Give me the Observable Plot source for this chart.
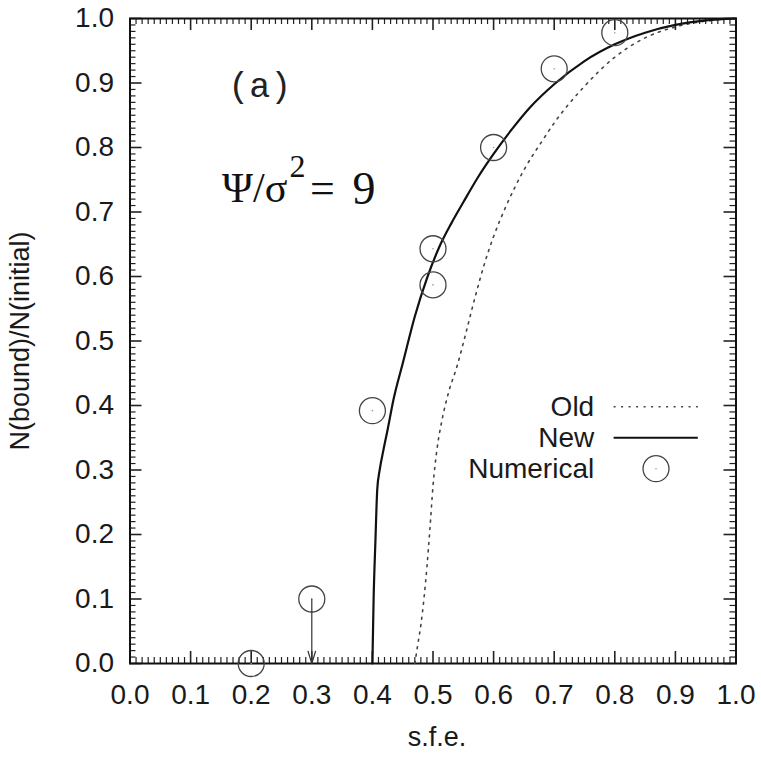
<!DOCTYPE html>
<html>
<head>
<meta charset="utf-8">
<script src="https://cdn.jsdelivr.net/npm/d3@7"></script>
<script src="https://cdn.jsdelivr.net/npm/@observablehq/plot@0.6"></script>
<style>
  body { margin: 0; background: #fff; }
</style>
</head>
<body>
<div id="chart"></div>
<script>
// ---- data ----
const newX = [0.400, 0.402, 0.405, 0.408, 0.412, 0.418, 0.425, 0.435, 0.450, 0.470, 0.490, 0.510, 0.530, 0.550, 0.575, 0.600, 0.630, 0.660, 0.700, 0.750, 0.800, 0.850, 0.900, 0.950, 1.000];
const newY = [0.000, 0.100, 0.190, 0.270, 0.300, 0.330, 0.362, 0.410, 0.465, 0.538, 0.597, 0.645, 0.682, 0.715, 0.755, 0.790, 0.828, 0.862, 0.898, 0.934, 0.960, 0.978, 0.990, 0.997, 1.000];

const oldX = [0.470, 0.475, 0.480, 0.485, 0.490, 0.495, 0.500, 0.507, 0.515, 0.525, 0.540, 0.555, 0.570, 0.585, 0.600, 0.620, 0.650, 0.680, 0.700, 0.750, 0.800, 0.850, 0.900, 0.950, 1.000];
const oldY = [0.000, 0.030, 0.060, 0.100, 0.150, 0.210, 0.275, 0.335, 0.378, 0.418, 0.462, 0.515, 0.570, 0.620, 0.662, 0.708, 0.765, 0.810, 0.838, 0.895, 0.940, 0.970, 0.987, 0.996, 1.000];

const numX = [0.2, 0.3, 0.4, 0.5, 0.5, 0.6, 0.7, 0.8];
const numY = [0.000, 0.100, 0.392, 0.643, 0.587, 0.800, 0.922, 0.978];

// upper limit: arrow from the point down to zero
const limitX = [0.3];
const limitFrom = [0.1];
const limitTo = [0.0];

const legendLabels = ["Old", "New", "Numerical"];
const majorTicks = d3.range(0, 11).map(i => i / 10);
const minorTicks = d3.range(0, 101).map(i => i / 100);
const tickLabels = ["0.0","0.1","0.2","0.3","0.4","0.5","0.6","0.7","0.8","0.9","1.0"];

const xLabel = "s.f.e.";
const yLabel = "N(bound)/N(initial)";
const panelLabel = "(a)";

// ---- build tables ----
const newCurve = newX.map((x, i) => ({x, y: newY[i]}));
const oldCurve = oldX.map((x, i) => ({x, y: oldY[i]}));
const numPts = numX.map((x, i) => ({x, y: numY[i]}));
const limits = limitX.map((x, i) => ({x, y1: limitFrom[i], y2: limitTo[i]}));

// legend layout (in data units)
const legTop = 0.398, legStep = 0.048;
const legend = legendLabels.map((label, i) => ({label, y: legTop - i * legStep}));
const legTextX = 0.766, legLine1 = 0.798, legLine2 = 0.937, legSymX = 0.868;

const fmt = d => tickLabels[Math.round(d * 10)];
const ink = "#1a1a1a";
const serif = "'Liberation Serif', 'Times New Roman', serif";

// inward ticks (minor every 0.01, major every 0.1) on all four sides
const tickRows = minorTicks.map((v, i) => ({v, major: i % 10 === 0}));
function sideTicks(major, len, sw) {
  const rows = tickRows.filter(d => d.major === major);
  const common = {stroke: "#222", strokeWidth: sw};
  return [
    Plot.ruleX(rows, {x: "v", y1: () => 0, y2: () => 0, insetBottom: len, ...common}),
    Plot.ruleX(rows, {x: "v", y1: () => 1, y2: () => 1, insetTop: len, ...common}),
    Plot.ruleY(rows, {y: "v", x1: () => 0, x2: () => 0, insetLeft: len, ...common}),
    Plot.ruleY(rows, {y: "v", x1: () => 1, x2: () => 1, insetRight: len, ...common})
  ];
}

const chart = Plot.plot({
  width: 761,
  height: 760,
  marginLeft: 129.5,
  marginRight: 25.5,
  marginTop: 18,
  marginBottom: 97,
  x: {domain: [0, 1]},
  y: {domain: [0, 1]},
  style: {fontFamily: "'Liberation Sans', Arial, sans-serif", fontSize: "28px", color: ink, background: "#fff"},
  marks: [
    ...sideTicks(false, 6, 1.2),
    ...sideTicks(true, 12, 1.6),
    // tick labels
    Plot.axisX(majorTicks, {anchor: "bottom", tickSize: 0, tickPadding: 21, tickFormat: fmt, label: null, fill: ink, fontSize: 28}),
    Plot.axisY(majorTicks, {anchor: "left", tickSize: 0, tickPadding: 16, tickFormat: fmt, label: null, fill: ink, fontSize: 28}),
    Plot.frame({stroke: "#111", strokeWidth: 2}),
    // axis titles
    Plot.text([xLabel], {frameAnchor: "bottom", dy: 82, dx: 4, fontSize: 27, fill: ink}),
    Plot.text([yLabel], {frameAnchor: "left", textAnchor: "middle", rotate: -90, dx: -110, fontSize: 27, fill: ink}),
    // curves
    Plot.line(oldCurve, {x: "x", y: "y", stroke: "#444", strokeWidth: 1.6, strokeDasharray: "2 5.5", curve: "monotone-x"}),
    Plot.line(newCurve, {x: "x", y: "y", stroke: "#111", strokeWidth: 2.2, curve: "monotone-x"}),
    // numerical points
    Plot.dot(numPts, {x: "x", y: "y", r: 13, stroke: "#444", strokeWidth: 1.3, fill: "none"}),
    Plot.dot(numPts, {x: "x", y: "y", r: 0.8, fill: "#999", stroke: "none"}),
    Plot.arrow(limits, {x: "x", y1: "y1", y2: "y2", stroke: "#333", strokeWidth: 1.2, headLength: 16, headAngle: 34}),
    // annotations
    Plot.text([panelLabel], {x: [0.214], y: [0.895], fontFamily: "'Liberation Mono', 'DejaVu Sans Mono', monospace", fontSize: 35, fill: "#222"}),
    Plot.text(["Ψ/σ"], {x: [0.152], y: [0.736], textAnchor: "start", fontFamily: serif, fontSize: 42, fill: "#111"}),
    Plot.text(["2"], {x: [0.263], y: [0.770], textAnchor: "start", fontFamily: serif, fontSize: 32, fill: "#111"}),
    Plot.text(["="], {x: [0.297], y: [0.736], textAnchor: "start", fontFamily: serif, fontSize: 44, fill: "#111"}),
    Plot.text(["9"], {x: [0.367], y: [0.736], textAnchor: "start", fontFamily: serif, fontSize: 46, fill: "#111"}),
    // legend
    Plot.text(legend, {x: () => legTextX, y: "y", text: "label", textAnchor: "end", fontSize: 28, fill: ink}),
    Plot.link(legend.filter(d => d.label === "Old"), {x1: () => legLine1, x2: () => legLine2, y1: "y", y2: "y", stroke: "#444", strokeWidth: 1.6, strokeDasharray: "2 5.5"}),
    Plot.link(legend.filter(d => d.label === "New"), {x1: () => legLine1, x2: () => legLine2, y1: "y", y2: "y", stroke: "#111", strokeWidth: 2.2}),
    Plot.dot(legend.filter(d => d.label === "Numerical"), {x: () => legSymX, y: "y", r: 13, stroke: "#444", strokeWidth: 1.3, fill: "none"}),
    Plot.dot(legend.filter(d => d.label === "Numerical"), {x: () => legSymX, y: "y", r: 0.8, fill: "#999", stroke: "none"})
  ]
});
document.getElementById("chart").appendChild(chart);
</script>
</body>
</html>
